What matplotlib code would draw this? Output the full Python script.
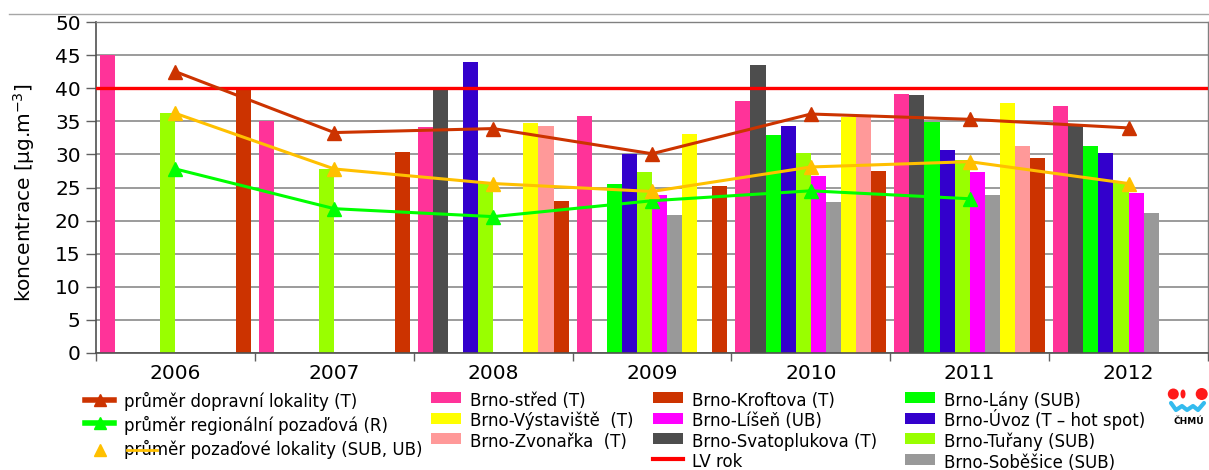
import numpy as np
import matplotlib
matplotlib.use('Agg')
import matplotlib.pyplot as plt
from matplotlib.lines import Line2D
from matplotlib.patches import Rectangle, Circle, Ellipse

plt.rcParams['font.family'] = ['DejaVu Sans']
plt.rcParams['mathtext.fontset'] = 'dejavusans'

nan = np.nan
years = ['2006', '2007', '2008', '2009', '2010', '2011', '2012']

# station annual means of NO2 [ug/m3], in drawing order inside each year
stred = [45.0, 35.0, 34.2, 35.8, 38.1, 39.1, 37.3]
svatoplukova = [nan, nan, 40.2, nan, 43.5, 39.0, 34.3]
lany = [nan, nan, nan, 25.5, 32.9, 34.9, 31.2]
uvoz = [nan, nan, 43.9, 30.1, 34.3, 30.6, 30.2]
turany = [36.2, 27.8, 25.7, 27.4, 30.2, 29.2, 25.7]
lisen = [nan, nan, nan, 23.9, 26.8, 27.4, 24.1]
sobesice = [nan, nan, nan, 20.8, 22.8, 23.9, 21.1]
vystaviste = [nan, nan, 34.8, 33.1, 35.7, 37.7, nan]
zvonarka = [nan, nan, 34.3, nan, 35.6, 31.3, nan]
kroftova = [39.9, 30.3, 23.0, 25.3, 27.5, 29.5, nan]

# averages by locality type
prumer_doprava = [42.5, 33.3, 33.9, 30.1, 36.1, 35.3, 34.0]
prumer_region = [27.8, 21.8, 20.6, 23.0, 24.5, 23.3, nan]
prumer_pozadi = [36.2, 27.8, 25.6, 24.4, 28.1, 28.9, 25.6]
lv_rok = 40

bars = [
    (stred, '#FF3399', 'Brno-střed (T)'),
    (svatoplukova, '#4D4D4D', 'Brno-Svatoplukova (T)'),
    (lany, '#00FF00', 'Brno-Lány (SUB)'),
    (uvoz, '#3300CC', 'Brno-Úvoz (T – hot spot)'),
    (turany, '#99FF00', 'Brno-Tuřany (SUB)'),
    (lisen, '#FF00FF', 'Brno-Líšeň (UB)'),
    (sobesice, '#999999', 'Brno-Soběšice (SUB)'),
    (vystaviste, '#FFFF00', 'Brno-Výstaviště  (T)'),
    (zvonarka, '#FF9999', 'Brno-Zvonařka  (T)'),
    (kroftova, '#CC3300', 'Brno-Kroftova (T)'),
]
colors = {lab: c for _, c, lab in bars}

W, H = 1209, 470
fig = plt.figure(figsize=(W / 100, H / 100), dpi=100)
ax = fig.add_axes([96 / W, 1 - 353 / H, 1112 / W, 331 / H])

x = np.arange(len(years))
w = 0.095
off = (1 - w * len(bars)) / 2
for j, (vals, col, lab) in enumerate(bars):
    ax.bar(x - 0.5 + off + w * (j + 0.5), vals, width=w, color=col,
           linewidth=0, zorder=2)

ax.axhline(lv_rok, color='#FF0000', lw=2.4, zorder=3)
ax.plot(x, prumer_doprava, color='#CC3300', lw=2.2, marker='^', ms=10, zorder=4)
ax.plot(x, prumer_region, color='#00FF00', lw=2.2, marker='^', ms=10, zorder=4)
ax.plot(x, prumer_pozadi, color='#FFC000', lw=2.2, marker='^', ms=10, zorder=4)

ax.set_xlim(-0.5, 6.5)
ax.set_ylim(0, 50)
ax.set_yticks(range(0, 51, 5))
ax.yaxis.grid(True, color='#808080', lw=1.1, zorder=0)
ax.set_axisbelow(True)
ax.tick_params(axis='y', length=7, width=1, color='#606060', pad=4, labelsize=14.5)
ax.set_xticks(np.arange(-0.5, 7, 1))
ax.set_xticklabels([])
ax.tick_params(axis='x', which='major', length=6, width=1, color='#606060')
ax.set_xticks(x, minor=True)
ax.set_xticklabels(years, minor=True)
ax.tick_params(axis='x', which='minor', length=0, pad=8, labelsize=14.5)
for s in ['left', 'bottom']:
    ax.spines[s].set_color('#505050')
    ax.spines[s].set_linewidth(1.2)
for s in ['top', 'right']:
    ax.spines[s].set_color('#808080')
    ax.spines[s].set_linewidth(1)

fig.text(24 / W, 1 - 193 / H, 'koncentrace [µg.m$^{-3}$]', rotation=90,
         ha='center', va='center', fontsize=14.5)

# outer frame edge
fig.add_artist(Line2D([9 / W, 1], [1 - 14 / H, 1 - 14 / H], color='#A6A6A6', lw=1))


def px(xp, yp):
    return xp / W, 1 - yp / H


# legend, column 1: averages
lin = [(prumer_doprava, '#CC3300', 'průměr dopravní lokality (T)', 400, 407),
       (prumer_region, '#00FF00', 'průměr regionální pozaďová (R)', 423, 431)]
for _, col, lab, yl, yb in lin:
    fig.add_artist(Line2D([85 / W, 114 / W], [1 - yl / H] * 2, color=col, lw=4))
    fig.add_artist(Line2D([99.5 / W], [1 - yl / H], color=col, marker='^', ms=8, lw=0))
    fig.text(*px(124, yb), lab, fontsize=12, va='baseline')
fig.add_artist(Line2D([100 / W], [1 - 450 / H], color='#FFC000', marker='^', ms=8, lw=0))
fig.text(*px(124, 455), 'průměr pozaďové lokality (SUB, UB)', fontsize=12, va='baseline')
fig.add_artist(Line2D([127 / W, 157 / W], [1 - 450 / H] * 2, color='#FFC000', lw=2, zorder=5))

# legend, columns 2-4: stations
cols = [
    (431, ['Brno-střed (T)', 'Brno-Výstaviště  (T)', 'Brno-Zvonařka  (T)']),
    (653, ['Brno-Kroftova (T)', 'Brno-Líšeň (UB)', 'Brno-Svatoplukova (T)']),
    (905, ['Brno-Lány (SUB)', 'Brno-Úvoz (T – hot spot)', 'Brno-Tuřany (SUB)',
           'Brno-Soběšice (SUB)']),
]
for x0, labs in cols:
    for i, lab in enumerate(labs):
        top = 392 + 20.5 * i
        fig.add_artist(Rectangle(px(x0, top + 11), 30 / W, 11 / H,
                                 color=colors[lab], lw=0))
        fig.text(*px(x0 + 39, top + 14), lab, fontsize=12, va='baseline')
fig.add_artist(Line2D([653 / W, 683 / W], [1 - 459 / H] * 2, color='#FF0000', lw=3))
fig.text(*px(692, 467), 'LV rok', fontsize=12, va='baseline')

# institute logo
lg = fig.add_axes([1160 / W, 1 - 430 / H, 48 / W, 45 / H])
lg.set_xlim(0, 48)
lg.set_ylim(45, 0)
lg.axis('off')
lg.add_patch(Circle((13.3, 9), 5.5, color='#FF1A1A', lw=0))
lg.add_patch(Ellipse((23, 9), 5, 9, color='#FF1A1A', lw=0))
lg.add_patch(Circle((41.7, 9), 6, color='#FF1A1A', lw=0))
lg.plot([11, 16, 22, 27, 33, 38, 44], [18, 25, 21, 25, 21, 25, 18],
        color='#33BBEE', lw=3, solid_capstyle='round')
lg.text(29, 37, 'ČHMÚ', ha='center', va='center', fontsize=6.5, fontweight='bold')

fig.savefig('out.png', dpi=100)
